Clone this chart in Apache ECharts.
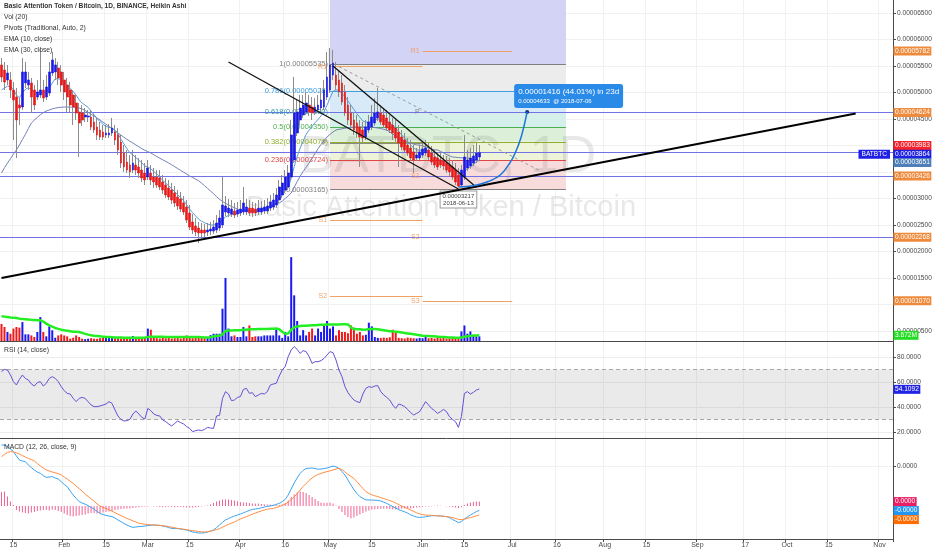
<!DOCTYPE html>
<html><head><meta charset="utf-8">
<script src="https://cdn.jsdelivr.net/npm/echarts@6/dist/echarts.min.js"></script>
<style>html,body{margin:0;padding:0;background:#fff}#c{width:932px;height:550px}</style>
</head><body><div id="c"></div>
<script>
// ---------- categories (one per day) ----------
const firstDay = '2018-01-11';
const dayCount = 299;
const tickDates = ['2018-01-15','2018-02-01','2018-02-15','2018-03-01','2018-03-15','2018-04-01','2018-04-16','2018-05-01','2018-05-15','2018-06-01','2018-06-15','2018-07-01','2018-07-16','2018-08-01','2018-08-15','2018-09-01','2018-09-17','2018-10-01','2018-10-15','2018-11-01'];
const tickTexts = ['15','Feb','15','Mar','15','Apr','16','May','15','Jun','15','Jul','16','Aug','15','Sep','17','Oct','15','Nov'];

// ---------- Heikin Ashi candles (satoshi) ----------
const haOpen = [5519,5424,5236,5236,5047,4915,4764,4726,5179,5141, 5179,5047,4915,4953,5047,4915,4990,5368,5387,5462, 5387,5236,5141,5047,4953,4802,4632,4613,4537,4537, 4537,4443,4349,4292,4254,4198,4198,4236,4254,4198, 4066,3858,3688,3632,3537,3632,3594,3537,3481,3405, 3481,3405,3405,3386,3311,3254,3198,3160,3104,3028, 2990,2915,2839,2726,2556,2481,2443,2405,2405,2368, 2386,2386,2405,2443,2500,2745,2726,2707,2764,2707, 2726,2745,2745,2820,2820,2801,2745,2745,2764,2764, 2820,2839,2877,2971,3066,3160,3217,3405,3726,4236, 4481,4575,4632,4764,4726,4632,4670,4707,4726,4915, 5047,5330,5330,5236,5179,5009,4764,4613,4481,4424, 4349,4292,4160,4292,4349,4424,4519,4613,4575,4519, 4443,4387,4330,4254,4160,4104,4009,3953,3877,3764, 3764,3820,3858,3915,3858,3783,3764,3726,3707,3669, 3632,3594,3537,3443,3254,3405,3575,3613,3669,3726, 3783];
const haClose = [5292,5198,5368,5047,4858,4481,4707,5387,5387,5236, 4915,4764,5009,5047,4896,5104,5387,5613,5519,5273, 5141,5009,4915,4764,4726,4613,4424,4481,4575,4556, 4349,4292,4198,4160,4160,4236,4236,4330,4104,3915, 3669,3594,3537,3500,3669,3537,3481,3386,3349,3575, 3349,3311,3254,3217,3160,3066,3028,2971,2915,2858, 2801,2745,2594,2462,2405,2368,2349,2349,2349,2405, 2424,2462,2537,2632,2877,2858,2820,2801,2688,2783, 2801,2915,2839,2726,2726,2726,2820,2820,2839,2858, 2934,2971,3066,3217,3292,3405,3481,4198,4613,4632, 4707,4764,4802,4632,4613,4726,4764,4858,5047,5292, 5519,5556,5141,5009,4820,4613,4481,4387,4292,4236, 4160,4141,4349,4443,4537,4613,4632,4443,4387,4330, 4292,4236,4141,4047,3971,3915,3858,3764,3726,3820, 3877,3934,3953,3783,3688,3632,3594,3632,3613,3537, 3500,3405,3311,3236,3537,3783,3726,3764,3802,3858, 3864];
const haHigh = [5651,5575,5519,5387,5198,5085,4896,5651,5575,5387, 5273,5141,5236,5858,5236,5330,5575,5764,5651,5575, 5519,5387,5273,5198,5047,4953,4802,4764,4707,4670, 4670,4594,4519,4443,4387,4387,4405,4519,4387,4330, 4198,4009,3915,3820,3915,3820,3764,3726,3669,3726, 3632,3575,3537,3537,3443,3386,3349,3292,3236,3160, 3122,3047,2971,2877,2707,2632,2556,2537,2518,2537, 2556,2594,2688,2783,3405,3047,2990,2971,2915,2934, 2971,3217,2990,2971,2934,2915,2971,2952,2971,3009, 3066,3104,3198,3349,3443,3537,3632,4481,5292,4858, 4953,4953,5009,4953,4915,4896,4953,5085,5236,5764, 5840,5802,5575,5424,5330,5141,4915,4764,4632,4575, 4481,4443,4481,4575,4764,4896,5085,4764,4707,4670, 4575,4519,4481,4387,4292,4236,4141,4104,4009,3953, 4009,4066,4104,4047,3990,3915,3877,3858,3820,3802, 3764,3726,3669,3575,3632,4198,3915,3953,4009,4047, 4009];
const haLow = [5198,5047,5141,4896,4104,3764,4387,4670,5085,5047, 4613,4670,4858,4896,4820,4858,4934,5311,5236,5141, 5009,4858,4632,4613,4387,4481,3783,4368,4443,4443, 4292,4236,4104,4104,4104,4141,4141,4179,4009,3820, 3575,3500,3481,3386,3481,3443,3386,3311,3254,3349, 3254,3198,3198,3160,3085,3009,2971,2896,2839,2783, 2745,2688,2537,2405,2330,2292,2160,2254,2273,2292, 2311,2330,2349,2386,2443,2669,2650,2650,2632,2650, 2669,2688,2688,2669,2650,2669,2688,2688,2707,2707, 2764,2783,2820,2915,3009,3104,3160,3349,3669,4179, 4387,4519,4575,4556,4481,4575,4613,4632,4670,4858, 4990,5236,5047,4915,4764,4556,4387,4292,4198,4141, 3594,4066,4104,4236,4292,4368,4462,4387,4330,4273, 4236,4104,4066,3594,3915,3877,3802,3707,3481,3707, 3726,3764,3802,3726,3632,3575,3537,3575,3537,3481, 3424,3349,3254,3217,3236,3349,3518,3556,3613,3669, 3726];

// ---------- EMAs (satoshi) ----------
const ema10 = [5050,5080,5120,5110,5060,4950,4900,4990,5060,5090, 5060,5000,5000,5010,4990,5010,5080,5180,5260,5260, 5240,5200,5150,5080,5020,4950,4860,4800,4760,4720, 4650,4580,4510,4450,4400,4360,4340,4330,4290,4220, 4120,4030,3940,3860,3820,3770,3720,3670,3610,3600, 3560,3510,3460,3410,3340,3290,3240,3180,3130,3070, 3020,2960,2880,2800,2730,2670,2610,2570,2540,2520, 2500,2500,2510,2540,2600,2650,2680,2700,2700,2710, 2730,2770,2780,2770,2760,2750,2760,2770,2790,2800, 2830,2860,2920,2990,3060,3140,3200,3380,3600,3790, 3950,4080,4210,4290,4360,4430,4490,4560,4640,4760, 4900,5020,5050,5040,4980,4920,4840,4760,4680,4600, 4530,4460,4440,4440,4450,4480,4500,4490,4480,4450, 4420,4380,4330,4260,4200,4140,4080,4010,3950,3920, 3910,3910,3920,3890,3850,3800,3750,3720,3690,3650, 3610,3560,3510,3450,3460,3520,3560,3600,3640,3690, 3730];
const ema30 = [3481,3580,3670,3750,3840,3915,4010,4110,4210,4320, 4424,4480,4530,4580,4620,4650,4670,4690,4705,4715, 4722,4726,4726,4724,4720,4714,4707,4690,4660,4625, 4590,4555,4518,4481,4440,4400,4360,4320,4280,4236, 4195,4155,4115,4080,4047,4010,3975,3940,3910,3885, 3858,3825,3790,3760,3730,3700,3669,3635,3600,3565, 3530,3495,3460,3425,3395,3365,3335,3290,3240,3190, 3140,3090,3035,2985,2945,2910,2880,2850,2825,2800, 2783,2775,2770,2770,2775,2780,2783,2800,2815,2835, 2860,2880,2900,2915,2950,3000,3050,3104,3210,3320, 3420,3510,3590,3669,3760,3850,3940,4020,4090,4160, 4210,4255,4292,4305,4315,4325,4335,4342,4349,4349, 4349,4349,4349,4349,4345,4338,4330,4320,4305,4292, 4255,4215,4180,4140,4104,4085,4065,4045,4025,4010, 4009,3990,3975,3955,3935,3920,3915,3890,3860,3830, 3805,3783,3778,3772,3768,3764,3764,3750,3735,3720, 3707];

// ---------- volume (millions) ----------
const volume = [11,9,5.8,4.7,8,9,8.6,12.2,4.3,4.3, 3.6,2.6,5.8,15.4,5.8,3,9.4,6.9,2.1,3.6, 4.3,3.6,3,1.5,2.1,3.6,2.6,1.5,1.2,1.5, 1.8,1.5,1.4,1.8,2,2.1,2.1,2.1,1.8,1.8, 1.6,1.8,1.5,1.6,3.2,1.8,1.4,1.8,2,8, 7.3,2,1.8,1.6,2,1.8,2.2,1.6,1.8,2.4, 1.6,2.2,3.6,2.4,1.8,2,2.6,2,1.8,2.2, 3.8,4.7,4.7,4.7,20.8,40.6,8,3,3.6,2.6, 2.6,9,3,10,2.6,3,3,3,3.6,3.6, 3.6,3.6,8,3.6,2,5.8,3,54,29.4,12.9, 3.6,7,3.6,5.8,8,3.6,8,5.8,10,12.9, 8,9.4,3.6,7,5.8,5.8,5,10,8.6,4.7, 5.8,3.6,4,11.8,9.4,2.6,2,2,2.2,2, 2.4,7.3,5.8,2,1.8,1.6,2.2,2,1.8,1.6, 2,1.8,3,1.8,2,1.6,2.2,1.8,2,1.6, 1.8,2,1.6,2.4,6.2,10,4.7,6.2,3.6,3, 3];
const volMA = [15.9,15.7,15.5,15.2,15,14.8,14.4,14.2,14,13.8, 13.6,13.5,13.4,13.3,12.5,11.2,10.1,9.2,8.4,7.8, 7.3,6.9,6.6,6.3,6,5.9,5.8,5.2,4.6,4.1, 3.7,3.4,3.2,3,2.8,2.6,2.5,2.4,2.3,2.2, 2.2,2.1,2.1,2.1,2.1,2.1,2.1,2.1,2.2,2.5, 2.8,2.8,2.8,2.7,2.7,2.6,2.6,2.6,2.6,2.6, 2.6,2.6,2.6,2.6,2.5,2.5,2.5,2.4,2.3,2.3, 2.4,3,3.2,3.4,4.3,6.4,6.7,6.8,6.9,7, 7,7.3,7.3,7.6,7.6,7.6,7.7,7.7,7.8,7.8, 7.9,7.9,8,7.6,5.9,4.7,4.8,7.3,8.8,9.4, 9.6,9.8,9.8,10,10.1,10.1,10.3,10.4,10.5,10.7, 10.7,10.7,10.7,10.7,10.8,10.8,10.7,8.7,7.7,7.5, 7.5,7.3,7.4,7.6,7.7,7.7,7.5,7.2,6.9,6.6, 6.3,6.2,6,5.8,5.5,5.2,4.9,4.6,4.3,4, 3.7,3.4,3.3,3.2,3.1,3,2.8,2.6,2.5,2.4, 2.3,2.2,2.1,2.1,2.3,2.8,3,3.3,3.5,3.6, 3.67];

// ---------- RSI ----------
const rsi = [68.3,70.1,69.6,65.6,60.3,57.6,62.1,65.6,62.9,61.6, 58.4,56.8,59.5,60.3,56.8,58.9,62.9,64.3,62.9,60.3, 56.3,53.1,50.9,50.4,46.9,44.3,46.9,47.7,46.9,44.3, 41.6,40.3,40.3,40.8,41.6,42.4,44.3,42.9,37.6,32.8, 30.1,28.8,29.1,30.1,34.4,36.8,34.4,31.7,30.4,38.9, 37.1,34.4,33.3,32.8,29.6,28.3,26.4,24.8,26.9,28.8, 27.5,26.4,24.3,22.9,20.3,21.1,21.6,21.1,22.1,23.7, 23.2,22.9,32.8,33.3,46.9,52.3,50.4,45.1,45.6,47.7, 48.3,54.1,54.9,50.9,51.5,48.3,49.6,50.9,50.4,52.3, 57.6,58.4,58.9,64.8,69.6,72.3,80.3,85.6,88.3,86.1, 82.9,85.1,84.3,80.3,74.9,76.3,76.3,77.1,78.9,81.6, 84.3,83.5,77.6,69.6,64.3,56.3,51.5,48.3,45.6,44.3, 43.5,50.4,54.9,56.3,55.7,56.8,57.1,52.3,49.6,47.7, 45.6,41.6,38.9,42.4,41.6,40.3,38.1,35.5,33.6,34.9, 36.3,40.3,44.3,41.6,38.9,37.1,34.9,36.3,38.1,36.3, 32.3,30.1,28.3,23.7,32.3,50.9,52.3,50.4,51.7,53.6, 54.4];
const rsiLast = '54.1092';

// ---------- MACD (in 1e-8 BTC) ----------
const macd = [305,305,298,285,272,250,230,225,222,205, 192,180,170,163,152,143,145,147,140,135, 122,108,97,75,55,38,22,15,9,2, -8,-15,-27,-37,-43,-47,-50,-53,-60,-70, -78,-88,-95,-102,-107,-105,-103,-102,-100,-98, -96,-95,-96,-97,-100,-103,-108,-112,-113,-113, -115,-118,-120,-125,-130,-132,-135,-135,-134,-130, -125,-120,-108,-95,-82,-70,-63,-56,-50,-45, -40,-34,-28,-22,-17,-15,-13,-9,-5,-2, 0,3,8,13,22,33,55,85,115,140, 163,178,188,189,190,187,184,185,187,190, 195,200,196,188,172,155,130,105,82,62, 47,38,31,30,30,29,28,25,19,13, 5,-3,-10,-18,-24,-29,-36,-44,-50,-55, -57,-56,-54,-51,-49,-48,-49,-50,-52,-53, -58,-67,-75,-83,-78,-65,-55,-45,-37,-28, -22];
const signal = [247,258,268,272,270,265,260,252,245,238, 232,225,212,200,190,180,175,170,166,162, 155,145,135,124,113,100,87,75,60,48, 36,24,10,0,-7,-13,-19,-26,-33,-41, -48,-55,-62,-68,-74,-80,-86,-89,-91,-93, -94,-95,-96,-97,-99,-100,-103,-106,-109,-112, -114,-116,-118,-121,-123,-125,-127,-129,-130,-129, -126,-122,-118,-113,-106,-99,-92,-86,-80,-72, -65,-59,-53,-47,-41,-35,-30,-25,-20,-16, -14,-12,-8,-3,3,10,20,32,45,62, 80,98,113,127,140,150,158,163,168,172, 176,180,185,188,182,170,158,148,138,122, 105,88,72,63,56,51,47,42,37,32, 27,22,15,7,0,-7,-13,-20,-27,-34, -40,-43,-45,-46,-47,-48,-49,-50,-51,-53, -55,-58,-62,-67,-68,-66,-62,-58,-54,-49, -45];
const histo = [70,72,47,22,5,-20,-28,-32,-35,-37, -33,-30,-25,-22,-20,-20,-22,-18,-20,-25, -30,-38,-45,-50,-53,-50,-48,-45,-42,-38, -35,-35,-37,-35,-32,-30,-28,-25,-20,-18, -15,-14,-12,-12,-10,-8,-6,-4,-3,-2, 0,-2,-3,-5,-6,-5,-4,-5,-6,-5, -4,-6,-7,-8,-7,-6,-5,-3,-1,3, 8,15,22,28,32,33,32,30,27,24, 20,18,17,15,13,12,12,10,9,8, 7,6,5,5,8,15,28,45,58,68, 72,70,65,55,45,35,25,18,15,16, 17,12,2,-15,-30,-45,-55,-62,-58,-50, -42,-35,-28,-22,-18,-16,-15,-14,-13,-14, -15,-16,-17,-16,-14,-13,-12,-12,-10,-8, -6,-4,-3,-2,-1,1,2,1,0,-1, -3,-5,-8,-10,-5,5,12,17,20,22, 22];

// ---------- drawings ----------
const fibRatios = ['1','0.786','0.618','0.5','0.382','0.236','0'];
const fibLevels = [5535,5028,4630,4350,4070,3724,3165];
const fibTopLevel = 7000;
const fibSpan = ['2018-05-01','2018-07-19'];
const pivotNames = ['R1','P','S1','S2','S3'];
const pivotMay = [5486,4047,2594,1160,null];
const pivotJun = [5782,4624,3426,2268,1070];
const pivotMaySpan = ['2018-05-01','2018-06-01'];
const pivotJunSpan = ['2018-06-01','2018-07-01'];
const hLines = [4624,3864,3426,2268];
const supportLine = [['2018-01-11',1499],['2018-10-24',4605]];
const wedgeLower = [['2018-03-28',5575],['2018-06-13',3179]];
const wedgeUpper = [['2018-05-02',5500],['2018-06-19',3213]];
const channelDash = [['2018-05-04',5487],['2018-07-10',3531]];
const projectionArc = [['2018-06-13',3217],['2018-06-18',3240],['2018-06-23',3320],['2018-06-27',3443],['2018-06-30',3651],['2018-07-02',3858],['2018-07-04',4160],['2018-07-06',4633]];
const projText = ['0.00001416 (44.01%) in 23d','0.00004633  @ 2018-07-06'];
const lowPoint = ['2018-06-13',3217];
const lowText = ['0.00003217','2018-06-13'];
const priceTags = [5782,4624,3983,3864,3651,3426,2268,1070];
const priceTagColors = ['#ee8a3c','#ee8a3c','#f5222d','#1f1fe6','#4e7fb8','#ee8a3c','#ee8a3c','#ee8a3c'];
const priceTickValues = [500,1000,1500,2000,2500,3000,3500,4000,4500,5000,5500,6000,6500];
const priceLabelValues = [500,1500,2000,2500,3000,4500,5000,5500,6000,6500];
const volTag = 3.672;
const macdTags = [22,-23,-68];
const macdTagColors = ['#e91e63','#2196f3','#ff6d00'];
const macdTagTexts = ['0.0000','-0.0000','-0.0000'];

// ---------- build ----------
const cats = [];
const t0 = Date.parse(firstDay + 'T00:00:00Z');
for (let k = 0; k < dayCount; k++) cats.push(new Date(t0 + k * 86400000).toISOString().slice(0, 10));
const labelMap = {};
tickDates.forEach((d, k) => { labelMap[d] = tickTexts[k]; });
const showTick = (idx, val) => labelMap[val] !== undefined;
const fmtBTC = v => (v * 1e-8).toFixed(8);

const wickData = haOpen.map((o, k) => [o, haClose[k], haLow[k], haHigh[k]]);
const bodyData = haOpen.map((o, k) => [o, haClose[k], Math.min(o, haClose[k]), Math.max(o, haClose[k])]);
const volData = volume.map((v, k) => ({ value: v, itemStyle: { color: haClose[k] >= haOpen[k] ? '#1a1af0' : '#f01a1a' } }));

const FONT = '"Liberation Sans", Arial, sans-serif';
const AX = '#4a4a4a';
const CLEAR = 'rgba(0,0,0,0)';
const TAGFS = 6.6;

const fibColors = ['#808080','#3d9ee0','#2b9aa8','#4caf50','#8fae2e','#e04545','#808080'];
const bandColors = ['#d3d3f6','#ececec','#d8e9f7','#d5efea','#dcf0d9','#edf4d8','#f8dcdc'];
const fibBands = [];
const topVal = Math.min(fibTopLevel, 6745);
const bandEdges = [topVal].concat(fibLevels);
for (let k = 0; k < bandEdges.length - 1; k++) {
  fibBands.push([{ coord: [fibSpan[0], bandEdges[k]], itemStyle: { color: bandColors[k] } }, { coord: [fibSpan[1], bandEdges[k + 1]] }]);
}
const fibLineData = fibLevels.map((v, k) => [
  { coord: [fibSpan[0], v], lineStyle: { color: fibColors[k], width: 1, type: 'solid' },
    label: { show: true, position: 'start', distance: 2, formatter: fibRatios[k] + '(' + fmtBTC(v) + ')', color: fibColors[k], fontSize: 7.5 } },
  { coord: [fibSpan[1], v] }
]);
const pivotData = [];
[[pivotMay, pivotMaySpan], [pivotJun, pivotJunSpan]].forEach(([lv, span]) => {
  lv.forEach((v, k) => {
    if (v === null) return;
    const col = pivotNames[k] === 'P' ? '#8a8a8a' : '#f0a266';
    pivotData.push([
      { coord: [span[0], v], lineStyle: { color: col, width: 1.2, type: 'solid' },
        label: { show: true, position: 'start', distance: 3, formatter: pivotNames[k], color: col, fontSize: 7 } },
      { coord: [span[1], v] }
    ]);
  });
});
// vertical nudges (px) so stacked axis tags do not overlap, as on the reference
const tagNudge = { 3983: -1, 3864: 1.5, 3651: -1.5 };
const tagItem = (v, bg, txt, nudge) => ({
  yAxis: v,
  lineStyle: { color: CLEAR, width: 0.1 },
  label: { show: true, position: 'end', distance: 0.5, offset: [0, nudge || 0], formatter: txt, color: '#fff', backgroundColor: bg,
    padding: [1, 1.5, 1, 1.5], fontSize: TAGFS, lineHeight: 7, fontFamily: FONT }
});

const option = {
  animation: false,
  textStyle: { fontFamily: FONT },
  grid: [
    { left: 0, right: 39, top: 0, height: 341, outerBoundsMode: 'none' },
    { left: 0, right: 39, top: 250, height: 91, outerBoundsMode: 'none' },
    { left: 0, right: 39, top: 341, height: 97, outerBoundsMode: 'none' },
    { left: 0, right: 39, top: 438, height: 101, outerBoundsMode: 'none' }
  ],
  xAxis: [0, 1, 2, 3].map(gi => ({
    type: 'category', gridIndex: gi, data: cats, boundaryGap: true,
    axisLine: { show: gi !== 0, onZero: false, lineStyle: { color: AX, width: 1 } },
    axisTick: { show: gi === 3, interval: showTick, length: 3, lineStyle: { color: AX } },
    axisLabel: { show: gi === 3, interval: showTick, formatter: v => labelMap[v] || '', fontSize: 7, color: AX, margin: 3 },
    splitLine: { show: gi !== 1, interval: showTick, lineStyle: { color: '#f1f1f1' } }
  })),
  yAxis: [
    { type: 'value', gridIndex: 0, position: 'right', min: 311, max: 6745,
      axisLine: { show: true, onZero: false, lineStyle: { color: AX } },
      axisTick: { show: true, length: 3, customValues: priceTickValues, lineStyle: { color: AX } },
      axisLabel: { customValues: priceLabelValues, formatter: v => fmtBTC(v), fontSize: TAGFS, color: AX, margin: 4 },
      splitLine: { show: true, lineStyle: { color: '#f1f1f1' } } },
    { type: 'value', gridIndex: 1, min: 0, max: 58.6, show: false },
    { type: 'value', gridIndex: 2, position: 'right', min: 15.2, max: 92.8,
      axisLine: { show: true, onZero: false, lineStyle: { color: AX } },
      axisTick: { show: true, length: 3, customValues: [20, 40, 60, 80], lineStyle: { color: AX } },
      axisLabel: { customValues: [20, 40, 60, 80], formatter: v => v.toFixed(4), fontSize: TAGFS, color: AX, margin: 4 },
      splitLine: { show: true, lineStyle: { color: '#ececec' } } },
    { type: 'value', gridIndex: 3, position: 'right', min: -165, max: 340,
      axisLine: { show: true, onZero: false, lineStyle: { color: AX } },
      axisTick: { show: true, length: 3, customValues: [200], lineStyle: { color: AX } },
      axisLabel: { customValues: [200], formatter: v => (v * 1e-8).toFixed(4), fontSize: TAGFS, color: AX, margin: 4 },
      splitLine: { show: true, lineStyle: { color: '#f1f1f1' } } }
  ],
  graphic: [
    { type: 'text', x: 448, y: 158, z: 3, silent: true, style: { text: 'BATBTC, 1D', font: '52px ' + FONT, fill: 'rgba(90,90,90,0.14)', align: 'center', verticalAlign: 'middle', textAlign: 'center', textVerticalAlign: 'middle' } },
    { type: 'text', x: 441, y: 208, z: 3, silent: true, style: { text: 'Basic Attention Token / Bitcoin', font: '29px ' + FONT, fill: 'rgba(90,90,90,0.14)', align: 'center', verticalAlign: 'middle', textAlign: 'center', textVerticalAlign: 'middle' } },
    { type: 'text', left: 4, top: 3, z: 50, style: { text: 'Basic Attention Token / Bitcoin, 1D, BINANCE, Heikin Ashi', font: 'bold 6.6px ' + FONT, fill: '#333' } },
    { type: 'text', left: 4, top: 14, z: 50, style: { text: 'Vol (20)', font: '6.8px ' + FONT, fill: '#333' } },
    { type: 'text', left: 4, top: 25, z: 50, style: { text: 'Pivots (Traditional, Auto, 2)', font: '6.8px ' + FONT, fill: '#333' } },
    { type: 'text', left: 4, top: 36, z: 50, style: { text: 'EMA (10, close)', font: '6.8px ' + FONT, fill: '#333' } },
    { type: 'text', left: 4, top: 47, z: 50, style: { text: 'EMA (30, close)', font: '6.8px ' + FONT, fill: '#333' } },
    { type: 'text', left: 4, top: 347, z: 50, style: { text: 'RSI (14, close)', font: '6.8px ' + FONT, fill: '#333' } },
    { type: 'text', left: 4, top: 444, z: 50, style: { text: 'MACD (12, 26, close, 9)', font: '6.8px ' + FONT, fill: '#333' } }
  ],
  series: [
    { name: 'fibBands', type: 'line', xAxisIndex: 0, yAxisIndex: 0, data: [], z: 1, silent: true,
      markArea: { silent: true, data: fibBands } },
    { name: 'fibLines', type: 'line', xAxisIndex: 0, yAxisIndex: 0, data: [], z: 4, silent: true,
      markLine: { silent: true, symbol: ['none', 'none'], data: fibLineData } },
    { name: 'pivots', type: 'line', xAxisIndex: 0, yAxisIndex: 0, data: [], z: 4, silent: true,
      markLine: { silent: true, symbol: ['none', 'none'], data: pivotData } },
    { name: 'hlines', type: 'line', xAxisIndex: 0, yAxisIndex: 0, data: [], z: 4, silent: true,
      markLine: { silent: true, symbol: ['none', 'none'], label: { show: false },
        lineStyle: { color: '#7272e6', width: 1.2, type: 'solid' }, data: hLines.map(v => ({ yAxis: v })) } },
    { name: 'EMA30', type: 'line', xAxisIndex: 0, yAxisIndex: 0, data: ema30, z: 5, showSymbol: false, silent: true,
      lineStyle: { color: '#7380b8', width: 1 } },
    { name: 'EMA10', type: 'line', xAxisIndex: 0, yAxisIndex: 0, data: ema10, z: 5, showSymbol: false, silent: true,
      lineStyle: { color: '#5a9bd8', width: 1 } },
    { name: 'wicks', type: 'candlestick', xAxisIndex: 0, yAxisIndex: 0, data: wickData, z: 6, barWidth: 1, silent: true,
      itemStyle: { color: '#8c8c8c', color0: '#8c8c8c', borderColor: '#8c8c8c', borderColor0: '#8c8c8c', borderWidth: 1 } },
    { name: 'bodies', type: 'candlestick', xAxisIndex: 0, yAxisIndex: 0, data: bodyData, z: 7, barWidth: 2.3, silent: true,
      itemStyle: { color: '#1a1ae6', color0: '#e61a1a', borderColor: '#1a1ae6', borderColor0: '#e61a1a', borderWidth: 0.6 } },
    { name: 'support', type: 'line', xAxisIndex: 0, yAxisIndex: 0, data: supportLine, z: 9, showSymbol: false, silent: true,
      lineStyle: { color: '#000', width: 2 } },
    { name: 'wedgeLower', type: 'line', xAxisIndex: 0, yAxisIndex: 0, data: wedgeLower, z: 9, showSymbol: false, silent: true,
      lineStyle: { color: '#111', width: 1.3 } },
    { name: 'wedgeUpper', type: 'line', xAxisIndex: 0, yAxisIndex: 0, data: wedgeUpper, z: 9, showSymbol: false, silent: true,
      lineStyle: { color: '#111', width: 1.3 } },
    { name: 'channel', type: 'line', xAxisIndex: 0, yAxisIndex: 0, data: channelDash, z: 9, showSymbol: false, silent: true,
      lineStyle: { color: '#9a9a9a', width: 1, type: [3, 3] } },
    { name: 'projection', type: 'line', xAxisIndex: 0, yAxisIndex: 0, data: projectionArc, z: 9, showSymbol: false, smooth: 0.4, silent: true,
      lineStyle: { color: '#1e73d8', width: 1.5 },
      markPoint: { silent: true, data: [
        { coord: projectionArc[projectionArc.length - 1], symbol: 'circle', symbolSize: 4, itemStyle: { color: '#14357a' },
          label: { show: true, position: 'top', align: 'left', distance: 2, offset: [-13, 0], backgroundColor: '#2a8ae8', borderRadius: 3,
            padding: [3, 4, 3, 4], formatter: '{a|' + projText[0] + '}\n{b|' + projText[1] + '}',
            rich: { a: { fontSize: 8, color: '#fff', lineHeight: 10, fontFamily: FONT }, b: { fontSize: 6, color: '#fff', lineHeight: 8, fontFamily: FONT } } } },
        { coord: lowPoint, symbol: 'circle', symbolSize: 1, itemStyle: { color: CLEAR },
          label: { show: true, position: 'bottom', distance: 4, formatter: lowText.join('\n'), fontSize: 6, lineHeight: 7, color: '#444',
            backgroundColor: '#fff', borderColor: '#9a9a9a', borderWidth: 1, padding: [1, 2, 1, 2] } }
      ] } },
    { name: 'priceTags', type: 'line', xAxisIndex: 0, yAxisIndex: 0, data: [], z: 20, silent: true,
      markLine: { silent: true, symbol: ['none', 'none'],
        data: priceTags.map((v, k) => tagItem(v, priceTagColors[k], fmtBTC(v), tagNudge[v])) },
      markPoint: { silent: true, data: [
        { coord: [cats[cats.length - 1], priceTags[3]], symbol: 'circle', symbolSize: 1, itemStyle: { color: CLEAR },
          label: { show: true, position: 'left', distance: 1, offset: [0, 1.5], formatter: 'BATBTC', color: '#fff', backgroundColor: '#1f1fe6', padding: [1, 3, 1, 3], fontSize: TAGFS, lineHeight: 7 } }
      ] } },
    { name: 'Volume', type: 'bar', xAxisIndex: 1, yAxisIndex: 1, data: volData, barWidth: 2, z: 3, silent: true },
    { name: 'VolMA', type: 'line', xAxisIndex: 1, yAxisIndex: 1, data: volMA, z: 4, showSymbol: false, silent: true,
      lineStyle: { color: '#22ee22', width: 2.5 },
      markLine: { silent: true, symbol: ['none', 'none'],
        data: [tagItem(volTag, '#22dd22', volTag.toFixed(3) + 'M')] } },
    { name: 'RSI', type: 'line', xAxisIndex: 2, yAxisIndex: 2, data: rsi, z: 5, showSymbol: false, silent: true,
      lineStyle: { color: '#6250d6', width: 1 },
      markArea: { silent: true, itemStyle: { color: 'rgba(150,150,150,0.2)' }, data: [[{ yAxis: 30 }, { yAxis: 70 }]] },
      markLine: { silent: true, symbol: ['none', 'none'],
        data: [
          { yAxis: 70, lineStyle: { color: '#a8a8a8', type: [4, 3], width: 1 }, label: { show: false } },
          { yAxis: 30, lineStyle: { color: '#a8a8a8', type: [4, 3], width: 1 }, label: { show: false } },
          tagItem(parseFloat(rsiLast), '#2323e6', rsiLast)
        ] } },
    { name: 'Histogram', type: 'bar', xAxisIndex: 3, yAxisIndex: 3, data: histo, barWidth: 1, z: 3, silent: true,
      itemStyle: { color: '#f06292' } },
    { name: 'MACD', type: 'line', xAxisIndex: 3, yAxisIndex: 3, data: macd, z: 5, showSymbol: false, silent: true,
      lineStyle: { color: '#3aa3f0', width: 1 } },
    { name: 'Signal', type: 'line', xAxisIndex: 3, yAxisIndex: 3, data: signal, z: 5, showSymbol: false, silent: true,
      lineStyle: { color: '#ff8c42', width: 1 },
      markLine: { silent: true, symbol: ['none', 'none'],
        data: macdTags.map((v, k) => tagItem(v, macdTagColors[k], macdTagTexts[k])) } }
  ]
};
const chart = echarts.init(document.getElementById('c'), null, { renderer: 'canvas', width: 932, height: 550 });
chart.setOption(option);
</script>
</body></html>
